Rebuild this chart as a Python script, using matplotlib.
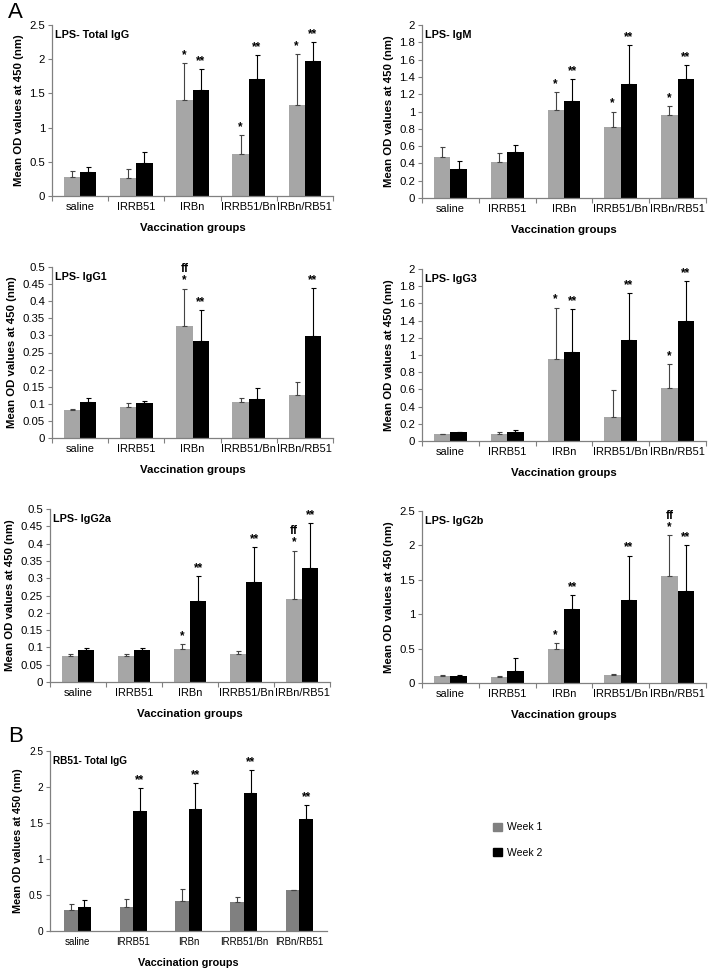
import numpy as np
import matplotlib
matplotlib.use("Agg")
import matplotlib.pyplot as plt
from matplotlib.patches import Patch

plt.rcParams['font.family'] = ['Liberation Sans', 'DejaVu Sans']

groups = ['saline', 'IRRB51', 'IRBn', 'IRRB51/Bn', 'IRBn/RB51']

# LPS - Total IgG
tot_w1 = [0.28, 0.27, 1.40, 0.62, 1.33]
tot_w1_top = [0.37, 0.39, 1.94, 0.89, 2.07]
tot_w2 = [0.35, 0.48, 1.55, 1.71, 1.97]
tot_w2_top = [0.43, 0.65, 1.85, 2.06, 2.25]
tot_sig1 = ['', '', '*', '*', '*']
tot_sig2 = ['', '', '**', '**', '**']

# LPS - IgM
igm_w1 = [0.47, 0.42, 1.02, 0.82, 0.96]
igm_w1_top = [0.59, 0.52, 1.22, 1.00, 1.06]
igm_w2 = [0.33, 0.53, 1.12, 1.32, 1.38]
igm_w2_top = [0.43, 0.61, 1.37, 1.77, 1.54]
igm_sig1 = ['', '', '*', '*', '*']
igm_sig2 = ['', '', '**', '**', '**']

# LPS - IgG1
g1_w1 = [0.082, 0.091, 0.327, 0.106, 0.125]
g1_w1_top = [0.086, 0.101, 0.437, 0.118, 0.163]
g1_w2 = [0.105, 0.101, 0.284, 0.113, 0.298]
g1_w2_top = [0.118, 0.107, 0.373, 0.146, 0.438]
g1_sig1 = ['', '', 'ff\n*', '', '']
g1_sig2 = ['', '', '**', '', '**']

# LPS - IgG3
g3_w1 = [0.08, 0.085, 0.95, 0.28, 0.62]
g3_w1_top = [0.085, 0.11, 1.55, 0.59, 0.89]
g3_w2 = [0.10, 0.105, 1.03, 1.18, 1.40]
g3_w2_top = [0.11, 0.13, 1.53, 1.72, 1.86]
g3_sig1 = ['', '', '*', '', '*']
g3_sig2 = ['', '', '**', '**', '**']

# LPS - IgG2a
g2a_w1 = [0.074, 0.076, 0.096, 0.080, 0.239]
g2a_w1_top = [0.082, 0.080, 0.109, 0.091, 0.380]
g2a_w2 = [0.093, 0.093, 0.235, 0.289, 0.330]
g2a_w2_top = [0.097, 0.098, 0.306, 0.390, 0.459]
g2a_sig1 = ['', '', '*', '', 'ff\n*']
g2a_sig2 = ['', '', '**', '**', '**']

# LPS - IgG2b
g2b_w1 = [0.10, 0.09, 0.49, 0.11, 1.55]
g2b_w1_top = [0.12, 0.10, 0.58, 0.13, 2.15]
g2b_w2 = [0.10, 0.18, 1.08, 1.21, 1.33]
g2b_w2_top = [0.11, 0.36, 1.28, 1.85, 2.00]
g2b_sig1 = ['', '', '*', '', 'ff\n*']
g2b_sig2 = ['', '', '**', '**', '**']

# RB51 - Total IgG
rb_w1 = [0.29, 0.34, 0.42, 0.40, 0.575]
rb_w1_top = [0.37, 0.44, 0.59, 0.47, 0.575]
rb_w2 = [0.33, 1.67, 1.70, 1.91, 1.55]
rb_w2_top = [0.43, 1.98, 2.05, 2.23, 1.75]
rb_sig1 = ['', '', '', '', '']
rb_sig2 = ['', '**', '**', '**', '**']

W, H = 711, 969
fig = plt.figure(figsize=(W / 100, H / 100), dpi=100)


def px_axes(x0, y0, x1, y1):
    return fig.add_axes([x0 / W, 1 - y1 / H, (x1 - x0) / W, (y1 - y0) / H])


def panel(ax, title, w1, w1_top, w2, w2_top, sig1, sig2, ymax, step, grey,
          bw=0.29, fs=7.9, lfs=8.2, tfs=7.8, boundary_ticks=True):
    x = np.arange(len(groups))
    ax.bar(x - bw / 2, w1, bw, color=grey, zorder=2)
    ax.bar(x + bw / 2, w2, bw, color='black', zorder=2)
    err1 = np.array(w1_top) - np.array(w1)
    err2 = np.array(w2_top) - np.array(w2)
    ax.errorbar(x - bw / 2, w1, yerr=[np.zeros(5), err1], fmt='none',
                ecolor='#444444', elinewidth=0.8, capsize=1.8, capthick=0.8, zorder=3)
    ax.errorbar(x + bw / 2, w2, yerr=[np.zeros(5), err2], fmt='none',
                ecolor='black', elinewidth=0.8, capsize=1.8, capthick=0.8, zorder=3)
    off = ymax * 0.012
    for i in range(len(groups)):
        if sig1[i]:
            ax.text(x[i] - bw / 2, w1_top[i] + off, sig1[i], ha='center', va='bottom',
                    fontsize=8.5, fontweight='bold', linespacing=0.9)
        if sig2[i]:
            ax.text(x[i] + bw / 2, w2_top[i] + off, sig2[i], ha='center', va='bottom',
                    fontsize=8.5, fontweight='bold', linespacing=0.9)
    ax.set_xlim(-0.5, len(groups) - 0.5)
    ax.set_ylim(0, ymax)
    ticks = np.arange(0, ymax + step / 2, step)
    ax.set_yticks(ticks)
    ax.set_yticklabels([f'{t:g}' for t in ticks], fontsize=fs + 0.3)
    ax.set_xticks(x)
    ax.set_xticklabels(groups, fontsize=fs)
    ax.tick_params(axis='x', length=0, pad=4)
    ax.tick_params(axis='y', length=3, width=0.8, color='#808080', pad=2)
    if boundary_ticks:
        ax.set_xticks(np.arange(-0.5, len(groups)), minor=True)
        ax.tick_params(axis='x', which='minor', length=3.5, width=0.8, color='#808080')
    for s in ['top', 'right']:
        ax.spines[s].set_visible(False)
    for s in ['left', 'bottom']:
        ax.spines[s].set_color('#808080')
        ax.spines[s].set_linewidth(0.9)
    ax.set_ylabel('Mean OD values at 450 (nm)', fontsize=lfs, fontweight='bold', labelpad=4)
    ax.set_xlabel('Vaccination groups', fontsize=lfs, fontweight='bold', labelpad=8)
    ax.text(0.01, 0.97, title, transform=ax.transAxes, ha='left', va='top',
            fontsize=tfs, fontweight='bold')


light = '#a6a6a6'
panel(px_axes(52, 25, 333, 196), 'LPS- Total IgG', tot_w1, tot_w1_top, tot_w2, tot_w2_top,
      tot_sig1, tot_sig2, 2.5, 0.5, light)
panel(px_axes(422, 25, 706, 198), 'LPS- IgM', igm_w1, igm_w1_top, igm_w2, igm_w2_top,
      igm_sig1, igm_sig2, 2.0, 0.2, light)
panel(px_axes(52, 267, 333, 438), 'LPS- IgG1', g1_w1, g1_w1_top, g1_w2, g1_w2_top,
      g1_sig1, g1_sig2, 0.5, 0.05, light)
panel(px_axes(422, 269, 706, 441), 'LPS- IgG3', g3_w1, g3_w1_top, g3_w2, g3_w2_top,
      g3_sig1, g3_sig2, 2.0, 0.2, light)
panel(px_axes(50, 509, 330, 682), 'LPS- IgG2a', g2a_w1, g2a_w1_top, g2a_w2, g2a_w2_top,
      g2a_sig1, g2a_sig2, 0.5, 0.05, light)
panel(px_axes(422, 511, 706, 683), 'LPS- IgG2b', g2b_w1, g2b_w1_top, g2b_w2, g2b_w2_top,
      g2b_sig1, g2b_sig2, 2.5, 0.5, light)
axb = px_axes(50, 751, 327, 931)
panel(axb, 'RB51- Total IgG', rb_w1, rb_w1_top, rb_w2, rb_w2_top,
      rb_sig1, rb_sig2, 2.5, 0.5, '#808080', bw=0.245, fs=7.0, lfs=7.8, tfs=7.2,
      boundary_ticks=False)

fig.text(8 / W, 1 - 12 / H, 'A', fontsize=16, ha='left', va='center')
fig.text(8 / W, 1 - 737 / H, 'B', fontsize=16, ha='left', va='center')

handles = [Patch(color='#808080', label='Week 1'), Patch(color='black', label='Week 2')]
fig.legend(handles=handles, loc='center left', bbox_to_anchor=(484 / W, 1 - 840 / H),
           frameon=False, fontsize=7.5, labelspacing=1.5, handlelength=0.8, handleheight=0.8,
           handletextpad=0.5)

fig.savefig('out.png', dpi=100)
